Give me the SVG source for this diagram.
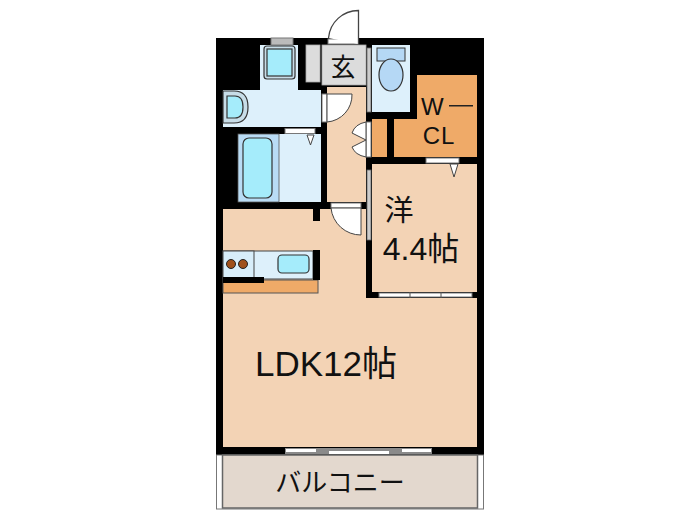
<svg xmlns="http://www.w3.org/2000/svg" width="700" height="525" viewBox="0 0 700 525">
<style>
.ln{stroke:#3a3a3a;stroke-width:1}
.blue{fill:#ddf0fb}
.cy{fill:#a5ecfb;stroke:#333;stroke-width:1.2}
.peach{fill:#f3d3b5}
.org{fill:#efaa68}
.w{fill:#fff;stroke:#777;stroke-width:1}
.g{fill:#9b9b9b}
text{font-family:"Liberation Sans","Noto Sans CJK JP",sans-serif;fill:#111}
.j{font-family:"Noto Sans CJK JP","Noto Sans",sans-serif}
</style>
<rect width="700" height="525" fill="#fff"/>
<rect x="216" y="38" width="268" height="417" fill="#000"/>
<!-- balcony -->
<rect x="216.500" y="455" width="267" height="54" fill="#fff" stroke="#777" stroke-width="1"/>
<rect x="222.500" y="455" width="255" height="53" fill="#e3d8ce" stroke="#666" stroke-width="1.500"/>
<!-- LDK -->
<path class="peach" d="M223 209H366V298H477V447H223Z"/>
<rect x="313" y="205" width="7" height="16" fill="#000"/>
<!-- kitchen -->
<rect class="blue" x="223" y="251" width="90" height="28" stroke="#444"/>
<rect x="223" y="251" width="31" height="28" fill="#d8eefa" stroke="#444"/>
<circle cx="231" cy="264" r="4.500" fill="#a0511c" stroke="#222"/>
<circle cx="243" cy="264" r="4.500" fill="#a0511c" stroke="#222"/>
<rect class="cy" x="278" y="255" width="31" height="18" rx="4"/>
<rect class="org" x="223" y="280" width="95" height="13" stroke="#555"/>
<rect x="313" y="250" width="7" height="30" fill="#000"/>
<rect x="223" y="277" width="41" height="6" fill="#000"/>
<!-- bath / wash -->
<path class="blue" d="M260 45H298V90H321V127H223V90H260Z"/>
<rect x="271" y="38" width="22" height="7" fill="#bbb" stroke="#777"/>
<rect x="264" y="46" width="31" height="33" rx="3" fill="#c7dde8" stroke="#333" stroke-width="1.200"/>
<rect class="cy" x="267" y="49" width="25" height="27"/>
<path d="M223 91H234Q248 91 248 107Q248 123 234 123H223Z" fill="#c7dde8" stroke="#333" stroke-width="1.200"/>
<path class="cy" d="M227 96H235Q243 96 243 107Q243 118 235 118H227Z"/>
<rect class="blue" x="238" y="134" width="83" height="68"/>
<rect x="238" y="134" width="41" height="68" fill="#b9dcf5" stroke="#555" stroke-width=".8"/>
<rect class="cy" x="243" y="138" width="29" height="60" rx="6"/>
<rect class="w" x="285" y="128.500" width="30" height="5"/>
<path d="M307 135H314L310.500 145Z" fill="#fff" stroke="#444"/>
<!-- entry -->
<rect x="306" y="45" width="14" height="37" fill="#dcdcdc" stroke="#aaa" stroke-width=".8"/>
<rect x="322" y="45" width="44" height="40" fill="#dcdcdc" stroke="#aaa" stroke-width=".8"/>
<rect class="w" x="328" y="39" width="30" height="5"/>
<path d="M358.500 44V10.500A30 30 0 0 0 328.500 38" fill="#fff" stroke="#444" stroke-width="1.300"/>
<!-- toilet -->
<rect class="blue" x="372" y="45" width="38" height="67"/>
<rect x="377" y="48" width="28" height="13" fill="#b5d8f5" stroke="#333"/>
<ellipse cx="391" cy="75" rx="12" ry="16" fill="#b5d8f5" stroke="#333" stroke-width="1.200"/>
<rect x="367" y="48" width="4" height="64" fill="#ccc" stroke="#666" stroke-width=".8"/>
<!-- wcl -->
<path class="org" d="M417 75H477V157H394V119H417Z"/>
<rect class="org" x="372" y="119" width="15" height="38"/>
<!-- hall -->
<rect class="peach" x="327" y="87" width="39" height="115"/>
<rect class="w" x="322" y="94" width="5" height="28"/>
<path d="M327 94H352A27 27 0 0 1 327 122Z" fill="#fff" stroke="#444"/>
<rect class="w" x="366" y="122" width="5" height="35"/>
<path d="M366 122V140L352 133Q355 124 366 122ZM366 157V140L352 147Q355 155 366 157Z" fill="#fff" stroke="#444"/>
<rect class="w" x="331" y="203" width="30" height="5"/>
<path d="M361 208V235A30 30 0 0 1 331 208Z" fill="#fff" stroke="#444"/>
<!-- room -->
<rect class="peach" x="372" y="164" width="105" height="128"/>
<rect class="w" x="426" y="158" width="33" height="5"/>
<path d="M450 164H458L454 177Z" fill="#fff" stroke="#444"/>
<rect x="367" y="170" width="4" height="70" fill="#ccc" stroke="#666" stroke-width=".8"/>
<rect class="w" x="379" y="293" width="93" height="4"/>
<path d="M410 292V298M441 292V298" stroke="#555"/>
<!-- balcony door -->
<rect x="285" y="448" width="147" height="6" fill="#8a8a8a"/>
<rect x="286" y="449" width="30" height="3" fill="#fff"/>
<rect x="329" y="451" width="30" height="3" fill="#fff"/>
<rect x="359" y="451" width="30" height="3" fill="#fff"/>
<rect x="402" y="449" width="29" height="3" fill="#fff"/>
<!-- labels -->
<text class="j" x="343" y="76" font-size="25" text-anchor="middle">玄</text>
<text x="421" y="115" font-size="24">W</text>
<rect x="449" y="105" width="24" height="1.500" fill="#222"/>
<text x="439" y="144" font-size="24" letter-spacing="1" text-anchor="middle">CL</text>
<text class="j" x="399" y="221" font-size="29" text-anchor="middle">洋</text>
<text x="421" y="260" font-size="32" text-anchor="middle">4.4帖</text>
<text x="326" y="376" font-size="35" text-anchor="middle">LDK12帖</text>
<text class="j" x="340" y="492" font-size="26" text-anchor="middle">バルコニー</text>
</svg>
